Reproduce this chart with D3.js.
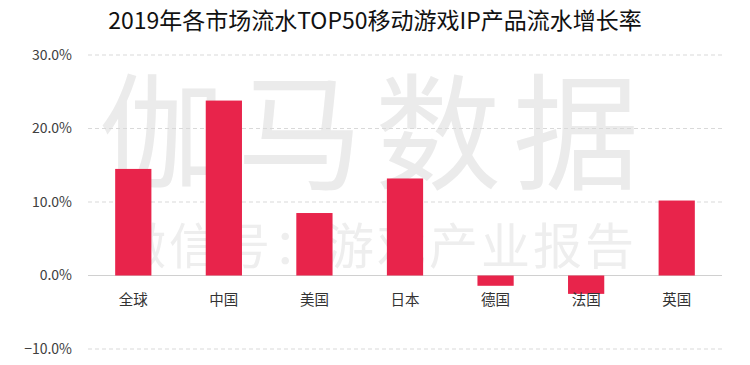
<!DOCTYPE html>
<html><head><meta charset="utf-8">
<script src="https://cdn.jsdelivr.net/npm/d3@7/dist/d3.min.js"></script>
<style>body{margin:0;background:#fff;}svg{display:block;font-family:"Microsoft YaHei","Noto Sans CJK SC",sans-serif;}</style>
</head><body>
<svg id="c" width="750" height="365"></svg>
<script>
const categories = ["全球","中国","美国","日本","德国","法国","英国"];
const values = [0.145, 0.238, 0.085, 0.132, -0.014, -0.025, 0.102];
const yTicks = [-0.1, 0, 0.1, 0.2, 0.3];
const title = "2019年各市场流水TOP50移动游戏IP产品流水增长率";

const svg = d3.select("#c");
const W = 750, H = 365;
const left = 88, right = 722, yTop = 55, yBot = 349;

svg.append("rect").attr("width", W).attr("height", H).attr("fill", "#fff");

// watermark
const wmFont = '"Liberation Sans","Noto Sans CJK SC",sans-serif';
svg.append("text").attr("x", 375).attr("y", 180).attr("text-anchor", "middle")
  .attr("font-family", wmFont)
  .attr("font-size", 126).attr("fill", "#ebebeb").attr("letter-spacing", 12).text("伽马数据");
svg.append("text").attr("x", 377).attr("y", 264).attr("text-anchor", "middle")
  .attr("font-family", wmFont)
  .attr("font-size", 49).attr("fill", "#eeeeee").attr("letter-spacing", 3).text("微信号：游戏产业报告");

const x = d3.scaleBand().domain(categories).range([left, right]).paddingInner(0.6).paddingOuter(0.3);
const y = d3.scaleLinear().domain([-0.1, 0.3]).range([yBot, yTop]);

// grid
const grid = svg.append("g");
yTicks.forEach(t => {
  grid.append("line").attr("x1", left).attr("x2", right).attr("y1", y(t)).attr("y2", y(t))
    .attr("stroke", t === 0 ? "#d0d0d0" : "#d9d9d9").attr("stroke-width", 1)
    .attr("stroke-dasharray", t === 0 ? null : "4,3");
});

// y axis labels
const yAxis = d3.axisLeft(y).tickValues(yTicks).tickFormat(d3.format(".1%")).tickSize(0).tickPadding(0);
const ga = svg.append("g").attr("transform", `translate(${72},0)`).call(yAxis);
ga.select(".domain").remove();
ga.selectAll("text").attr("font-size", 14).attr("fill", "#404040")
  .attr("font-family", '"Microsoft YaHei","Noto Sans CJK SC",sans-serif');

// bars
svg.append("g").selectAll("rect").data(values).join("rect")
  .attr("x", (d, i) => x(categories[i]))
  .attr("width", x.bandwidth())
  .attr("y", d => y(Math.max(0, d)))
  .attr("height", d => Math.abs(y(d) - y(0)))
  .attr("fill", "#e8244b");

// category labels
const xAxis = d3.axisBottom(x).tickSize(0).tickPadding(0);
const gx = svg.append("g").attr("transform", `translate(0,${y(0) + 29})`).call(xAxis);
gx.select(".domain").remove();
gx.selectAll("text").attr("font-size", 14.5).attr("fill", "#333").attr("dy", "0")
  .attr("font-family", '"Microsoft YaHei","Noto Sans CJK SC",sans-serif');

// title
svg.append("text").attr("x", 375).attr("y", 29).attr("text-anchor", "middle")
  .attr("font-size", 23).attr("fill", "#111").text(title);
</script>
</body></html>
